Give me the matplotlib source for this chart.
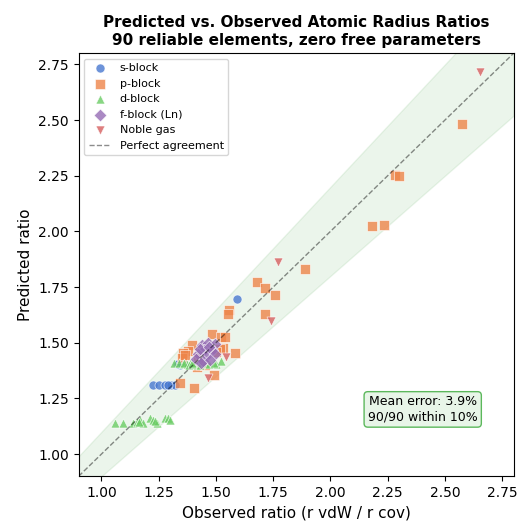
import numpy as np
import matplotlib
matplotlib.use('Agg')
import matplotlib.pyplot as plt

s_obs = [1.224, 1.250, 1.277, 1.302, 1.321, 1.593, 1.328, 1.362, 1.345, 1.290, 1.335]
s_pred = [1.310, 1.310, 1.310, 1.310, 1.312, 1.696, 1.404, 1.404, 1.402, 1.312, 1.405]

p_obs = [2.575, 2.282, 2.300, 2.180, 2.234, 1.889, 1.680, 1.714, 1.756, 1.558,
         1.554, 1.714, 1.481, 1.520, 1.539, 1.529, 1.582, 1.397, 1.379, 1.355,
         1.350, 1.490, 1.344, 1.405, 1.416, 1.518, 1.365, 1.450, 1.420, 1.500]
p_pred = [2.480, 2.253, 2.249, 2.024, 2.028, 1.831, 1.772, 1.744, 1.714, 1.647,
          1.627, 1.629, 1.539, 1.524, 1.524, 1.477, 1.455, 1.488, 1.461, 1.455,
          1.431, 1.353, 1.318, 1.295, 1.392, 1.470, 1.445, 1.400, 1.430, 1.460]

d_obs = [1.059, 1.095, 1.139, 1.156, 1.168, 1.180, 1.212, 1.226, 1.241, 1.277,
         1.292, 1.299, 1.315, 1.355, 1.372, 1.386, 1.416, 1.500, 1.522, 1.340,
         1.360, 1.380, 1.400, 1.430, 1.450, 1.470, 1.490, 1.395, 1.165, 1.235]
d_pred = [1.141, 1.141, 1.141, 1.146, 1.153, 1.141, 1.160, 1.153, 1.141, 1.160,
          1.160, 1.153, 1.410, 1.404, 1.404, 1.407, 1.400, 1.404, 1.419, 1.408,
          1.410, 1.400, 1.405, 1.400, 1.410, 1.405, 1.410, 1.410, 1.145, 1.150]

f_obs = [1.438, 1.464, 1.496, 1.449, 1.481, 1.423, 1.459, 1.496, 1.411, 1.445,
         1.474, 1.435, 1.430, 1.470]
f_pred = [1.490, 1.497, 1.493, 1.465, 1.468, 1.447, 1.443, 1.447, 1.425, 1.419,
          1.422, 1.407, 1.470, 1.480]

ng_obs = [2.655, 1.772, 1.739, 1.542, 1.466]
ng_pred = [2.717, 1.864, 1.596, 1.437, 1.340]

groups = [
    ('s-block', s_obs, s_pred, 'o', '#4878D0'),
    ('p-block', p_obs, p_pred, 's', '#EE854A'),
    ('d-block', d_obs, d_pred, '^', '#6ACC64'),
    ('f-block (Ln)', f_obs, f_pred, 'D', '#956CB4'),
    ('Noble gas', ng_obs, ng_pred, 'v', '#D65F5F'),
]

lim = (0.9, 2.8)

fig = plt.figure(figsize=(5.19, 5.21), dpi=100)
ax = fig.add_axes([0.1514, 0.0858, 0.8384, 0.8121])

# 10% 误差带
xx = np.linspace(lim[0], lim[1], 100)
ax.fill_between(xx, 0.9 * xx, 1.1 * xx, color='green', alpha=0.08)

for name, xo, yp, mk, col in groups:
    ax.scatter(xo, yp, marker=mk, s=42, color=col, alpha=0.8,
               edgecolors='white', linewidths=0.5, label=name)

ax.plot(lim, lim, 'k--', alpha=0.45, lw=1, label='Perfect agreement')

ax.set_xlim(lim)
ax.set_ylim(lim)
ax.set_xticks([1.0, 1.25, 1.5, 1.75, 2.0, 2.25, 2.5, 2.75])
ax.set_yticks([1.0, 1.25, 1.5, 1.75, 2.0, 2.25, 2.5, 2.75])
ax.set_xlabel('Observed ratio (r vdW / r cov)', fontsize=11)
ax.set_ylabel('Predicted ratio', fontsize=11)
ax.set_title('Predicted vs. Observed Atomic Radius Ratios\n'
             '90 reliable elements, zero free parameters',
             fontsize=11, fontweight='bold')
ax.legend(loc='upper left', fontsize=8)

ax.text(0.917, 0.125, 'Mean error: 3.9%\n90/90 within 10%',
        transform=ax.transAxes, ha='right', va='bottom', fontsize=9,
        bbox=dict(boxstyle='round', facecolor='#e8f5e8', edgecolor='#5cb85c'))

plt.savefig('out.png', dpi=100)
plt.close()
